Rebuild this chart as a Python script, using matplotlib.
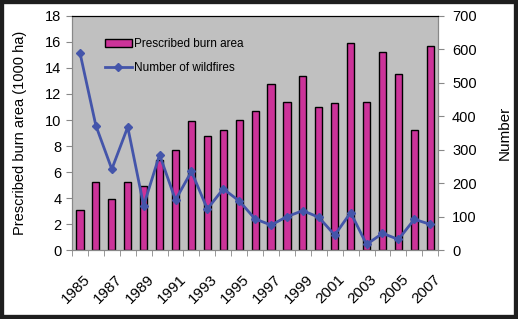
import numpy as np
import matplotlib
matplotlib.use("Agg")
import matplotlib.pyplot as plt
from matplotlib.patches import Rectangle

plt.rcParams['font.family'] = ['Liberation Sans', 'DejaVu Sans']

# data
years = list(range(1985, 2008))
burn_area = [3.1, 5.2, 3.9, 5.2, 4.9, 6.9, 7.7, 9.9, 8.8, 9.2, 10.0, 10.7, 12.8,
             11.4, 13.4, 11.0, 11.3, 15.9, 11.4, 15.2, 13.5, 9.2, 15.7]
wildfires = [590, 372, 242, 368, 133, 285, 150, 235, 123, 183, 147, 93, 75,
             100, 118, 98, 45, 112, 17, 50, 32, 92, 77]

fig = plt.figure(figsize=(5.18, 3.19), dpi=100)
fig.patch.set_facecolor('white')
fig.patches.append(Rectangle((0, 0), 1, 1, transform=fig.transFigure,
                             fill=False, edgecolor='#1e1e1e', linewidth=6))

ax = fig.add_axes([0.139, 0.216, 0.707, 0.734])
ax.set_facecolor('#c0c0c0')
x = np.arange(len(years))

bars = ax.bar(x, burn_area, width=0.45, color='#cc3399', edgecolor='black',
              linewidth=1, label='Prescribed burn area', zorder=2)
ax.set_xlim(-0.5, len(years) - 0.5)
ax.set_ylim(0, 18)
ax.set_yticks(range(0, 19, 2))
ax.set_ylabel('Prescribed burn area (1000 ha)', fontsize=10.5, labelpad=13)

ax.set_xticks(x[::2] + 0.2)
ax.set_xticklabels([str(y) for y in years[::2]], rotation=45, ha='right',
                   rotation_mode='anchor', fontsize=11)
ax.set_xticks(np.arange(-0.5, len(years), 1), minor=True)
ax.tick_params(axis='x', which='major', length=0, pad=16)
ax.tick_params(axis='x', which='minor', length=4, color='#888888')
ax.tick_params(axis='y', labelsize=10.5, color='#888888', length=4)

ax2 = ax.twinx()
line, = ax2.plot(x, wildfires, color='#4455aa', linewidth=2, marker='D',
                 markersize=4.5, label='Number of wildfires', zorder=3)
ax2.set_ylim(0, 700)
ax2.set_yticks(range(0, 701, 100))
ax2.set_ylabel('Number', fontsize=11, labelpad=15)
ax2.tick_params(axis='y', labelsize=10.5, color='#888888', length=4, pad=6)

for a in (ax, ax2):
    a.spines['top'].set_color('black')
    a.spines['left'].set_color('#888888')
    a.spines['right'].set_color('#888888')
    a.spines['bottom'].set_color('#888888')

ax2.legend([bars, line], ['Prescribed burn area', 'Number of wildfires'],
           loc='upper left', bbox_to_anchor=(0.06, 0.95), frameon=False,
           fontsize=8.5, handlelength=2.3, handletextpad=0.2, labelspacing=1.0)

fig.savefig('out.png', dpi=100)
